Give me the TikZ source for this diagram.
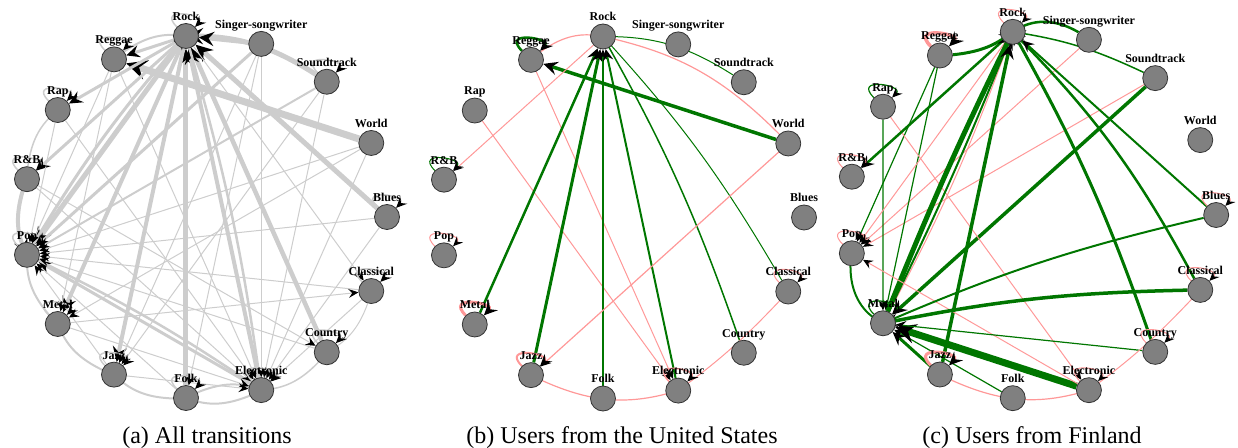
\documentclass[tikz,border=0pt]{standalone}
\usepackage{fontspec}
\setmainfont{Liberation Serif}
\usetikzlibrary{arrows.meta}
\definecolor{edgegray}{RGB}{205,205,205}
\definecolor{posgreen}{RGB}{0,118,0}
\definecolor{negpink}{RGB}{255,152,152}
\definecolor{nodegray}{RGB}{128,128,128}
\pgfdeclarelayer{edges}
\pgfsetlayers{edges,main}
\tikzset{
  genre/.style={circle, fill=nodegray, draw=black!80, line width=0.8pt, minimum size=25pt, inner sep=0pt, label distance=3.5pt},
  lab/.style={font=\bfseries\fontsize{12}{12}\selectfont, inner sep=0pt, text height=8pt, text depth=2.5pt},
  headtip/.style={-{Stealth[length=8pt 1.8, width=7pt 1.8, inset=3pt 0.6, color=black]}},
  trans/.style={draw=edgegray, line width=#1, headtip},
  gain/.style={draw=posgreen, line width=#1, headtip},
  drop/.style={draw=negpink, line width=#1, headtip},
  selfloop/.style={out=135, in=45, min distance=30pt},
  captext/.style={font=\fontsize{24}{24}\selectfont, inner sep=0pt, anchor=base},
}
% ring of genres, placed on a circle
\newcommand{\genrering}{%
  \foreach \g/\a/\txt in {Rock/96/Rock, Singer/72/Singer-songwriter, Soundtrack/48/Soundtrack, World/24/World, Blues/0/Blues, Classical/-24/Classical, Country/-48/Country, Electronic/-72/Electronic, Folk/-96/Folk, Jazz/-120/Jazz, Metal/-144/Metal, Pop/-168/Pop, RnB/168/R\&B, Rap/144/Rap, Reggae/120/Reggae}
    \node[genre, label={[lab]above:\txt}] (\g) at (\a:182) {};%
}

\begin{document}
\begin{tikzpicture}[x=1pt, y=1pt]
\useasboundingbox (0,0) rectangle (1238,447);

%(a) all transitions
\begin{scope}[name prefix=a-, shift={(205,230)}]
\genrering
\begin{pgfonlayer}{edges}
\draw[trans=7pt] (World) -- (Reggae);
\draw[trans=5pt] (Soundtrack) to[bend right=16] (Rock);
\draw[trans=4pt] (Singer) -- (Rock);
\draw[trans=5pt] (Blues) -- (Rock);
\draw[trans=4.5pt] (Country) -- (Rock);
\draw[trans=5pt] (Folk) -- (Rock);
\draw[trans=4pt] (Electronic) -- (Rock);
\draw[trans=2.5pt] (Rock) to[bend left=4] (Electronic);
\draw[trans=4pt] (Rock) -- (Jazz);
\draw[trans=4pt] (Rock) -- (Metal);
\draw[trans=5pt] (Rock) -- (Pop);
\draw[trans=3pt] (Pop) to[bend left=5] (Rock);
\draw[trans=3pt] (Rock) -- (Rap);
\draw[trans=3pt] (Rock) -- (RnB);
\draw[trans=3pt] (Rock) -- (Reggae);
\draw[trans=2pt] (Reggae) to[bend left=20] (Rock);
\draw[trans=3pt] (Singer) -- (Pop);
\draw[trans=2pt] (Soundtrack) -- (Pop);
\draw[trans=3pt] (Electronic) -- (Pop);
\draw[trans=2.5pt] (Pop) to[bend left=4] (Electronic);
\draw[trans=4pt] (RnB) to[bend right=20] (Pop);
\draw[trans=2pt] (Metal) to[bend left=20] (Pop);
\draw[trans=1.5pt] (RnB) to[bend left=20] (Rap);
\draw[trans=2pt] (Jazz) to[bend left=20] (Metal);
\draw[trans=2pt] (Folk) to[bend left=20] (Jazz);
\draw[trans=2pt] (Electronic) to[bend left=20] (Folk);
\draw[trans=2pt] (Folk) to[bend left=20] (Electronic);
\draw[trans=1.5pt] (Country) to[bend left=20] (Electronic);
\draw[trans=1pt] (Classical) to[bend left=20] (Country);
\foreach \s/\d in {World/Pop, Blues/Pop, Classical/Pop, Country/Pop, Folk/Pop, Jazz/Pop, Rap/Pop, Reggae/Pop, Reggae/Electronic, Rap/Electronic, RnB/Electronic, Metal/Electronic, Jazz/Electronic, Classical/Electronic, Blues/Electronic, World/Electronic, Soundtrack/Electronic, Singer/Electronic, Singer/Folk, Singer/Jazz, Soundtrack/Jazz, Reggae/Metal, RnB/Country, Metal/Classical, Rock/Classical, World/Metal}
  \draw[trans=1pt] (\s) -- (\d);
\foreach \g in {Rock, Reggae, Rap, RnB, Pop, Metal, Jazz, Folk, Electronic, Country, Classical, Blues, Soundtrack}
  \draw[trans=1.5pt] (\g) to[selfloop] (\g);
\end{pgfonlayer}
\end{scope}

%(b) united states
\begin{scope}[name prefix=b-, shift={(622,229.5)}]
\genrering
\begin{pgfonlayer}{edges}
\draw[gain=3.5pt] (World) -- (Reggae);
\draw[drop=1.2pt] (World) to[bend right=16] (Rock);
\draw[drop=1.2pt] (Reggae) to[bend left=22] (Rock);
\draw[gain=1pt] (Soundtrack) to[bend right=16] (Rock);
\draw[drop=1pt] (Rock) -- (RnB);
\draw[drop=1pt] (Rap) -- (Electronic);
\draw[drop=1pt] (Reggae) -- (Electronic);
\draw[gain=2.5pt] (Metal) -- (Rock);
\draw[gain=3pt] (Jazz) -- (Rock);
\draw[gain=1.5pt] (Folk) -- (Rock);
\draw[gain=2pt] (Electronic) -- (Rock);
\draw[gain=1.5pt] (Country) to[bend right=5] (Rock);
\draw[gain=1pt] (Classical) to[bend right=6] (Rock);
\draw[drop=1.2pt] (World) -- (Jazz);
\draw[drop=1.2pt] (Jazz) to[bend right=20] (Electronic);
\draw[drop=1pt] (Classical) to[bend left=5] (Electronic);
\draw[gain=2.5pt] (Reggae) to[selfloop] (Reggae);
\draw[gain=1pt] (RnB) to[selfloop] (RnB);
\draw[drop=1pt] (Pop) to[selfloop] (Pop);
\draw[drop=3pt] (Metal) to[selfloop] (Metal);
\draw[drop=2pt] (Jazz) to[selfloop] (Jazz);
\draw[drop=1pt] (Classical) to[selfloop] (Classical);
\draw[drop=1.5pt] (Electronic) to[selfloop] (Electronic);
\end{pgfonlayer}
\end{scope}

%(c) finland
\begin{scope}[name prefix=c-, shift={(1032,232)}, scale=1.012]
\genrering
\begin{pgfonlayer}{edges}
\draw[gain=2.5pt] (Singer) to[bend right=30] (Rock);
\draw[gain=1.5pt] (Soundtrack) to[bend right=8] (Rock);
\draw[drop=1pt] (Singer) -- (Pop);
\draw[drop=1pt] (Soundtrack) -- (Pop);
\draw[gain=3.5pt] (Soundtrack) -- (Metal);
\draw[gain=3pt] (Reggae) to[bend right=15] (Rock);
\draw[gain=1.2pt] (Reggae) -- (Pop);
\draw[gain=1.2pt] (Reggae) -- (Metal);
\draw[gain=1.2pt] (Rap) -- (Metal);
\draw[drop=1pt] (Rap) -- (Electronic);
\draw[gain=2.5pt] (Rock) -- (RnB);
\draw[drop=1pt] (Rock) -- (Pop);
\draw[drop=1pt] (Rock) to[bend left=4] (Metal);
\draw[gain=5pt] (Metal) to[bend left=2] (Rock);
\draw[gain=2pt] (Rock) to[bend left=2] (Metal);
\draw[gain=2pt] (Pop) to[bend right=30] (Metal);
\draw[gain=3.5pt] (Jazz) -- (Rock);
\draw[gain=3pt] (Jazz) -- (Metal);
\draw[gain=1.2pt] (Folk) -- (Metal);
\draw[drop=1.2pt] (Jazz) to[bend right=20] (Electronic);
\draw[gain=7pt] (Electronic) -- (Metal);
\draw[drop=1pt] (Electronic) -- (Pop);
\draw[gain=3pt] (Country) to[bend right=5] (Rock);
\draw[gain=1.2pt] (Country) -- (Metal);
\draw[gain=2.5pt] (Classical) to[bend right=8] (Rock);
\draw[gain=3.5pt] (Classical) to[bend right=5] (Metal);
\draw[drop=1pt] (Classical) to[bend left=5] (Electronic);
\draw[gain=2pt] (Blues) -- (Rock);
\draw[gain=2pt] (Blues) to[bend right=5] (Metal);
\foreach \g in {Rock, RnB, Pop, Electronic, Country, Classical, Blues}
  \draw[drop=1pt] (\g) to[selfloop] (\g);
\draw[drop=3.5pt] (Reggae) to[selfloop] (Reggae);
\draw[drop=3pt] (Jazz) to[selfloop] (Jazz);
\draw[gain=1.2pt] (Rap) to[selfloop] (Rap);
\draw[gain=1.2pt] (Metal) to[selfloop] (Metal);
\end{pgfonlayer}
\end{scope}

\node[captext] (capa) at (207,4) {(a) All transitions};
\node[captext] (capb) at (622,4) {(b) Users from the United States};
\node[captext] (capc) at (1032,4) {(c) Users from Finland};
\end{tikzpicture}
\end{document}
